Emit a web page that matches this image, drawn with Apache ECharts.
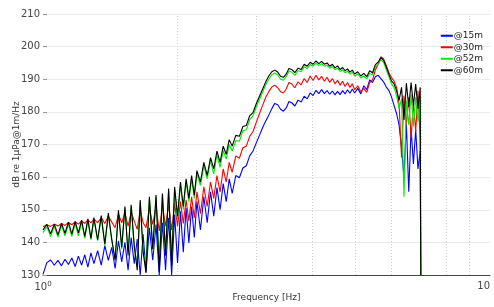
<!DOCTYPE html>
<html>
<head>
<meta charset="utf-8">
<script src="https://cdn.jsdelivr.net/npm/echarts@6/dist/echarts.min.js"></script>
<style>
  html, body { margin: 0; padding: 0; background: #fff; }
  #chart { width: 494px; height: 307px; }
</style>
</head>
<body>
<div id="chart"></div>
<script>
// frequency grid (Hz), shared by all four curves
const freqs = [
  1.00, 1.02, 1.04, 1.06, 1.08, 1.10, 1.12, 1.14, 1.16, 1.18, 1.20, 1.22, 1.24, 1.26, 1.28, 1.30,
  1.325, 1.35, 1.375, 1.40, 1.425, 1.45, 1.475, 1.50, 1.525, 1.55, 1.575, 1.60, 1.625, 1.65, 1.675, 1.70,
  1.73, 1.76, 1.79, 1.82, 1.85, 1.88, 1.91, 1.94, 1.97, 2.00, 2.03, 2.06, 2.09, 2.12, 2.15, 2.18, 2.21,
  2.25, 2.29, 2.33, 2.37, 2.41, 2.45, 2.49, 2.53, 2.57, 2.61, 2.65,
  2.70, 2.75, 2.80, 2.85, 2.90, 2.95, 3.00, 3.05, 3.10, 3.15, 3.20, 3.25, 3.30, 3.35, 3.40, 3.45, 3.50, 3.55, 3.60,
  3.66, 3.72, 3.78, 3.84, 3.90, 3.96, 4.02, 4.08, 4.14, 4.20, 4.26, 4.32, 4.38, 4.44, 4.50, 4.56, 4.62, 4.68, 4.74, 4.80, 4.86, 4.92, 4.98,
  5.06, 5.14, 5.22, 5.30, 5.38, 5.46, 5.54, 5.62, 5.70, 5.78, 5.86, 5.94, 6.02, 6.10, 6.18, 6.26, 6.34, 6.42, 6.50, 6.58, 6.66, 6.74, 6.82, 6.90, 6.98,
  7.00
];

// levels, dB re 1uPa@1m/Hz
const level15m = [
  130.2, 133.8, 134.6, 133.0, 134.5, 132.8, 134.8, 133.2, 135.2, 132.6, 135.8, 133.0, 136.2, 132.4, 136.8, 133.5,
  137.5, 133.0, 139.0, 134.5, 138.5, 132.0, 140.5, 134.0, 140.0, 131.5, 141.5, 133.5, 141.0, 130.0, 142.5, 131.0,
  144.5, 134.5, 145.5, 130.0, 146.0, 131.5, 147.5, 130.0, 148.5, 133.7, 149.5, 137.0, 150.5, 139.8, 151.0, 141.5, 152.5,
  143.8, 154.0, 146.0, 155.5, 148.0, 156.8, 150.0, 158.0, 152.5, 159.5, 155.0,
  160.5, 159.8, 162.8, 163.5, 166.5, 168.0, 170.5, 172.8, 175.2, 177.2, 179.0, 181.0, 182.6, 182.2, 180.8, 180.2, 181.2, 183.2, 182.8,
  181.8, 183.6, 183.0, 184.8, 184.0, 185.8, 185.0, 186.6, 185.6, 186.8, 185.6, 186.5, 185.4, 186.4, 185.2, 186.3, 185.3, 186.5, 185.5, 186.8, 185.7, 187.0, 185.8,
  187.2, 185.5, 188.0, 186.8, 189.8, 189.0, 190.8, 191.2, 190.2, 189.2, 187.6, 186.6, 184.6, 182.0, 179.5, 176.0, 169.0, 160.0, 176.5, 155.5, 175.0, 164.0, 174.5, 162.5, 168.0,
  130
];

const level30m = [
  144.8, 145.4, 144.9, 145.6, 145.0, 145.8, 145.2, 146.1, 145.4, 146.3, 145.6, 146.6, 145.8, 146.9, 146.0, 147.2,
  146.0, 147.6, 145.8, 148.0, 146.2, 144.5, 148.6, 146.0, 149.0, 145.0, 149.3, 146.5, 144.0, 150.0, 146.0, 144.5,
  150.5, 145.5, 151.0, 143.5, 151.5, 145.0, 151.5, 143.8, 152.0, 145.0, 152.5, 145.8, 153.0, 146.5, 154.0, 147.5, 155.5,
  148.8, 157.0, 151.0, 158.5, 153.5, 160.5, 155.5, 162.5, 158.5, 164.5, 161.5,
  166.5, 165.8, 169.0, 169.5, 172.5, 174.0, 176.8, 179.5, 182.0, 184.5, 186.2, 187.6, 188.2, 187.4, 186.2, 185.8, 187.0, 189.0, 188.6,
  187.4, 189.2, 188.3, 190.2, 189.0, 191.0, 189.6, 191.2, 189.8, 190.9, 189.4, 190.6, 189.0, 190.2, 188.6, 189.7, 188.2, 189.4, 187.8, 189.0, 187.5, 188.6, 186.8,
  188.0, 186.2, 187.2, 186.0, 189.0, 189.8, 192.8, 194.5, 196.9, 196.2, 194.2, 192.0, 190.5, 189.5, 187.5, 182.5, 166.0, 185.0, 176.0, 184.5, 172.0, 183.0, 174.0, 186.5, 171.5,
  130
];

const level52m = [
  143.0, 144.8, 141.8, 145.0, 141.6, 145.2, 142.0, 145.6, 141.8, 145.8, 142.0, 146.2, 141.2, 146.6, 140.8, 147.0,
  140.5, 147.6, 139.0, 148.4, 140.5, 135.0, 149.2, 138.0, 150.4, 137.0, 151.0, 138.5, 133.5, 152.4, 136.5, 134.6,
  153.4, 137.5, 154.0, 134.6, 154.5, 137.0, 155.8, 135.5, 156.2, 147.0, 157.6, 150.0, 158.6, 152.5, 159.5, 153.5, 161.0,
  157.5, 163.5, 159.5, 165.0, 161.0, 166.8, 163.0, 168.2, 165.5, 170.0, 168.0,
  171.2, 171.0, 174.2, 174.5, 177.6, 178.8, 181.5, 183.8, 186.0, 188.3, 190.0, 191.4, 191.9, 191.3, 190.0, 189.7, 190.8, 192.5, 192.2,
  191.2, 192.6, 192.3, 193.8, 193.3, 194.5, 194.0, 194.9, 194.2, 194.8, 194.0, 194.3, 193.4, 193.9, 192.9, 193.4, 192.4, 192.9, 192.0, 192.5, 191.6, 192.1, 191.0,
  191.6, 190.4, 191.0, 190.1, 191.8, 191.3, 193.8, 194.6, 196.0, 195.2, 193.0, 190.8, 188.6, 187.5, 185.0, 181.0, 184.0, 154.0, 183.5, 176.0, 185.5, 175.5, 184.5, 177.0, 185.0,
  130
];

const level60m = [
  143.8, 145.5, 142.6, 145.6, 142.3, 145.8, 142.8, 146.2, 142.5, 146.4, 142.9, 146.8, 141.8, 147.2, 141.2, 147.6,
  140.8, 148.2, 139.5, 149.0, 141.0, 134.5, 149.8, 138.5, 151.0, 136.0, 151.5, 139.0, 131.5, 153.0, 137.0, 130.6,
  154.0, 138.0, 154.5, 131.0, 155.0, 136.0, 156.5, 133.0, 157.0, 148.0, 158.5, 151.0, 159.5, 153.5, 160.5, 154.5, 162.0,
  158.5, 164.5, 160.5, 166.0, 162.5, 168.0, 164.5, 169.5, 167.0, 171.5, 169.5,
  172.8, 172.5, 175.5, 175.8, 178.8, 179.8, 182.5, 184.8, 187.0, 189.2, 191.0, 192.3, 192.8, 192.2, 190.9, 190.6, 191.6, 193.3, 193.0,
  192.0, 193.4, 193.0, 194.6, 194.0, 195.2, 194.6, 195.6, 194.8, 195.5, 194.6, 195.0, 194.0, 194.6, 193.5, 194.1, 193.0, 193.6, 192.6, 193.2, 192.2, 192.8, 191.6,
  192.3, 191.0, 191.8, 190.8, 192.6, 192.0, 194.5, 195.2, 196.6, 195.8, 193.8, 191.5, 189.5, 188.6, 186.5, 183.5, 187.5, 177.5, 188.8, 181.5, 189.0, 182.0, 188.5, 181.0, 187.5,
  130
];

const seriesNames = ["@15m", "@30m", "@52m", "@60m"];
const seriesColors = ["#0000ff", "#ff0000", "#00ee00", "#000000"];
const gridFreqs = [2, 3, 4, 5, 6, 7, 8, 9];

const chart = echarts.init(document.getElementById("chart"));

const allLevels = [level15m, level30m, level52m, level60m];

const seriesArr = allLevels.map((levels, i) => {
  return {
    name: seriesNames[i],
    type: "line",
    data: freqs.map((f, k) => [f, levels[k]]),
    showSymbol: false,
    symbol: "none",
    lineStyle: { width: 1.1, color: seriesColors[i] },
    itemStyle: { color: seriesColors[i] },
    z: 2 + i,
  };
});

// dotted minor grid lines at 2..9 Hz
seriesArr[0].markLine = {
  silent: true,
  symbol: "none",
  label: { show: false },
  lineStyle: { type: [1, 2], color: "#d2d2d2", width: 1 },
  data: gridFreqs.map((f) => ({ xAxis: f })),
  z: 1,
};

const option = {
  animation: false,
  backgroundColor: "#fff",
  textStyle: { fontFamily: "DejaVu Sans" },
  grid: { left: 43, right: 4, top: 14, bottom: 32, outerBoundsMode: "none", containLabel: false },
  legend: {
    orient: "vertical",
    right: 6,
    top: 25,
    icon: "rect",
    itemWidth: 12,
    itemHeight: 2,
    itemGap: 0,
    textStyle: { fontSize: 9, color: "#222", padding: [0, 0, 0, -4], lineHeight: 11.5 },
    data: seriesNames,
  },
  xAxis: {
    type: "log",
    logBase: 10,
    min: 1,
    max: 10,
    name: "Frequency [Hz]",
    nameLocation: "middle",
    nameGap: 18,
    nameMoveOverlap: false,
    nameTextStyle: { fontSize: 9, color: "#333" },
    axisLine: { lineStyle: { color: "#444" } },
    axisTick: { show: false },
    splitLine: { show: false },
    axisLabel: {
      color: "#444",
      fontSize: 10,
      margin: 6,
      alignMaxLabel: "right",
      formatter: (v) => (v === 1 ? "10{s|0}" : "10"),
      rich: { s: { fontSize: 7, padding: [0, 0, 6, 0] } },
    },
  },
  yAxis: {
    type: "value",
    min: 130,
    max: 210,
    interval: 10,
    name: "dB re 1\u03bcPa@1m/Hz",
    nameLocation: "middle",
    nameGap: 22,
    nameMoveOverlap: false,
    nameTextStyle: { fontSize: 9, color: "#333" },
    axisLine: { show: false },
    axisTick: { show: true, inside: true, length: 4, lineStyle: { color: "#999" } },
    splitLine: { lineStyle: { color: "#ebebeb" } },
    axisLabel: { color: "#444", fontSize: 10, margin: 3 },
  },
  series: seriesArr,
};

chart.setOption(option);
</script>
</body>
</html>
